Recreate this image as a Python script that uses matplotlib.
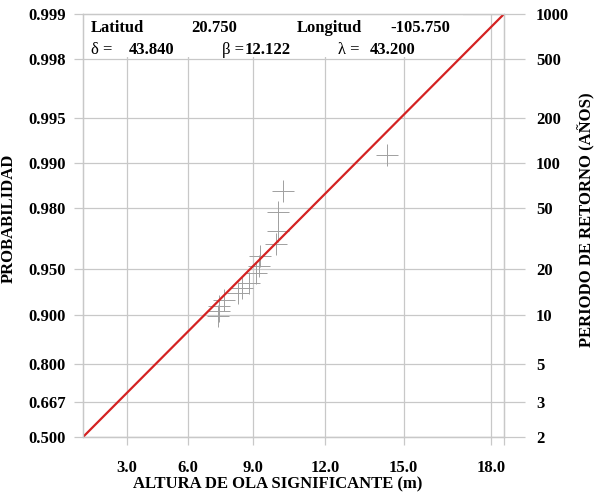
import numpy as np
import matplotlib
matplotlib.use('Agg')
import matplotlib.pyplot as plt
from matplotlib.patches import Rectangle

plt.rcParams['font.family'] = ['Liberation Serif', 'DejaVu Serif']
plt.rcParams['font.weight'] = 'bold'
plt.rcParams['axes.labelweight'] = 'bold'
plt.rcParams['font.size'] = 12

# parametros del ajuste (Weibull)
delta = 43.840
beta = 12.122
lam = 43.200
latitud = '20.750'
longitud = '-105.750'

# alturas de ola (m) y probabilidad
hs = [14.38, 10.27, 10.09, 10.09, 9.98, 9.29, 9.27, 9.12, 8.81, 8.52, 8.34, 7.70, 7.49, 7.49, 7.42]
prob = [0.9912, 0.9846, 0.9787, 0.9718, 0.9655, 0.9584, 0.9517, 0.9463, 0.9383, 0.9327,
        0.9275, 0.9195, 0.9124, 0.9057, 0.8995]

prob_ticks = [0.500, 0.667, 0.800, 0.900, 0.950, 0.980, 0.990, 0.995, 0.998, 0.999]
periodos = [2, 3, 5, 10, 20, 50, 100, 200, 500, 1000]
hs_ticks = [3.0, 6.0, 9.0, 12.0, 15.0, 18.0]

gris = '#c8c8c8'


# escalas del papel de probabilidad
def fx(x):
    return -np.log(np.clip(lam - np.asarray(x, dtype=float), 1e-9, None))


def fx_inv(u):
    return lam - np.exp(-np.asarray(u, dtype=float))


def fy(p):
    p = np.clip(np.asarray(p, dtype=float), 1e-12, 1 - 1e-12)
    return -np.log(-np.log(p))


def fy_inv(u):
    return np.exp(-np.exp(-np.asarray(u, dtype=float)))


# recta de ajuste
p_line = np.array([prob_ticks[0], prob_ticks[-1]])
x_line = lam - delta * (-np.log(p_line)) ** (1 / beta)

fig = plt.figure(figsize=(5.96, 4.98), dpi=100)
ax = fig.add_axes([83 / 596, 1 - 437 / 498, 421 / 596, 423 / 498])
ax.set_xscale('function', functions=(fx, fx_inv))
ax.set_yscale('function', functions=(fy, fy_inv))

ax.plot(hs, prob, linestyle='none', marker='+', markersize=16, markeredgewidth=0.7,
        color='#a0a0a0', zorder=2)
ax.plot(x_line, p_line, color='#d42222', lw=1.6, zorder=3)

ax.set_xlim(x_line[0], x_line[-1])
ax.set_ylim(prob_ticks[0], prob_ticks[-1])
ax.set_xticks(hs_ticks)
ax.set_xticklabels(['%.1f' % v for v in hs_ticks])
ax.set_xticks([x_line[-1]], minor=True)
ax.set_yticks(prob_ticks)
ax.set_yticklabels(['%.3f' % v for v in prob_ticks])
ax.yaxis.set_minor_locator(plt.NullLocator())

ax.set_axisbelow(True)
ax.grid(True, color=gris, lw=0.9)
for s in ax.spines.values():
    s.set_color(gris)
    s.set_linewidth(0.9)
ax.tick_params(axis='y', length=6.5, pad=6, color=gris, width=0.9)
ax.tick_params(axis='x', which='both', length=6, pad=10.5, color=gris, width=0.9)

# eje derecho: periodo de retorno
ax2 = ax.twinx()
ax2.set_yscale('function', functions=(fy, fy_inv))
ax2.set_ylim(ax.get_ylim())
ax2.set_yticks([1 - 1 / t for t in periodos])
ax2.set_yticklabels([str(t) for t in periodos])
ax2.yaxis.set_minor_locator(plt.NullLocator())
ax2.tick_params(axis='y', length=15, pad=8, color=gris, width=0.9)
for s in ax2.spines.values():
    s.set_color(gris)
    s.set_linewidth(0.9)

ax.set_xlabel('ALTURA DE OLA SIGNIFICANTE (m)')
ax.xaxis.set_label_coords((278 - 83) / 421, (437 - 476) / 423)
ax.set_ylabel('PROBABILIDAD')
ax.yaxis.set_label_coords((17 - 83) / 421, (437 - 218) / 423)
ax2.set_ylabel('PERIODO DE RETORNO (AÑOS)')
ax2.yaxis.set_label_coords((578 - 83) / 421, (437 - 220) / 423)

# recuadro con datos del punto
ax.add_patch(Rectangle((0.003, 0.898), 0.9, 0.099, transform=ax.transAxes,
                       facecolor='white', edgecolor='none', zorder=1))
r1 = 0.966
r2 = 0.916
ax.text(0.019, r1, 'Latitud', transform=ax.transAxes, va='center', zorder=4)
ax.text(0.2565, r1, latitud, transform=ax.transAxes, va='center', zorder=4)
ax.text(0.508, r1, 'Longitud', transform=ax.transAxes, va='center', zorder=4)
ax.text(0.729, r1, longitud, transform=ax.transAxes, va='center', zorder=4)
ax.text(0.019, r2, 'δ =', transform=ax.transAxes, va='center', weight='normal', zorder=4)
ax.text(0.109, r2, '%.3f' % delta, transform=ax.transAxes, va='center', zorder=4)
ax.text(0.330, r2, 'β =', transform=ax.transAxes, va='center', weight='normal', zorder=4)
ax.text(0.385, r2, '%.3f' % beta, transform=ax.transAxes, va='center', zorder=4)
ax.text(0.606, r2, 'λ =', transform=ax.transAxes, va='center', weight='normal', zorder=4)
ax.text(0.682, r2, '%.3f' % lam, transform=ax.transAxes, va='center', zorder=4)

fig.savefig('out.png', dpi=100)
